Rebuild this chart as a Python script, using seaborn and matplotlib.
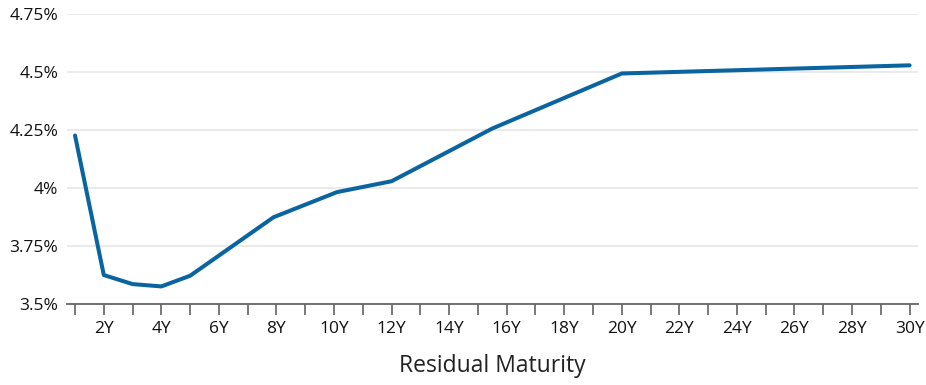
import seaborn as sns
import matplotlib.pyplot as plt
import pandas as pd
from matplotlib.ticker import FixedLocator, FuncFormatter

# yield curve (residual maturity in years, yield in %)
maturity = [1, 2, 3, 4, 5, 7.9, 10.1, 12, 15.5, 20, 30]
yield_pct = [4.227, 3.626, 3.587, 3.577, 3.623, 3.875, 3.983, 4.03, 4.257, 4.494, 4.529]
y_ticks = [3.5, 3.75, 4.0, 4.25, 4.5, 4.75]
x_ticks = list(range(1, 31))

df = pd.DataFrame({'maturity': maturity, 'yield': yield_pct})

sns.set_style('white')
plt.rcParams['font.family'] = ['Open Sans', 'DejaVu Sans']

fig = plt.figure(figsize=(9.26, 3.85), dpi=100)
ax = fig.add_axes([0.072, 0.2096, 0.919, 0.754])

sns.lineplot(x='maturity', y='yield', data=df, ax=ax, color='#0a64a0', linewidth=2.9)

ax.set_xlim(0.71, 30.28)
ax.set_ylim(3.5, 4.75)

ax.yaxis.set_major_locator(FixedLocator(y_ticks))
ax.yaxis.set_major_formatter(FuncFormatter(lambda v, p: f'{v:g}%'))
ax.xaxis.set_major_locator(FixedLocator(x_ticks))
ax.set_xticklabels([f'{t}Y' if t % 2 == 0 else '' for t in x_ticks])

ax.grid(axis='y', color='#e8e8e8', linewidth=1.3)
ax.set_axisbelow(True)
for s in ['top', 'right', 'left']:
    ax.spines[s].set_visible(False)
ax.spines['bottom'].set_color('#666666')
ax.spines['bottom'].set_linewidth(1.3)

ax.tick_params(axis='x', direction='out', length=8, width=1.1, color='#555555',
               labelsize=12.5, labelcolor='#111111', pad=4, bottom=True)
ax.tick_params(axis='y', length=0, labelsize=12.5, labelcolor='#111111', pad=6)

ax.set_ylabel('')
ax.set_xlabel('Residual Maturity', fontsize=16.5, color='#222222', labelpad=12)

fig.savefig('out.png', dpi=100)
